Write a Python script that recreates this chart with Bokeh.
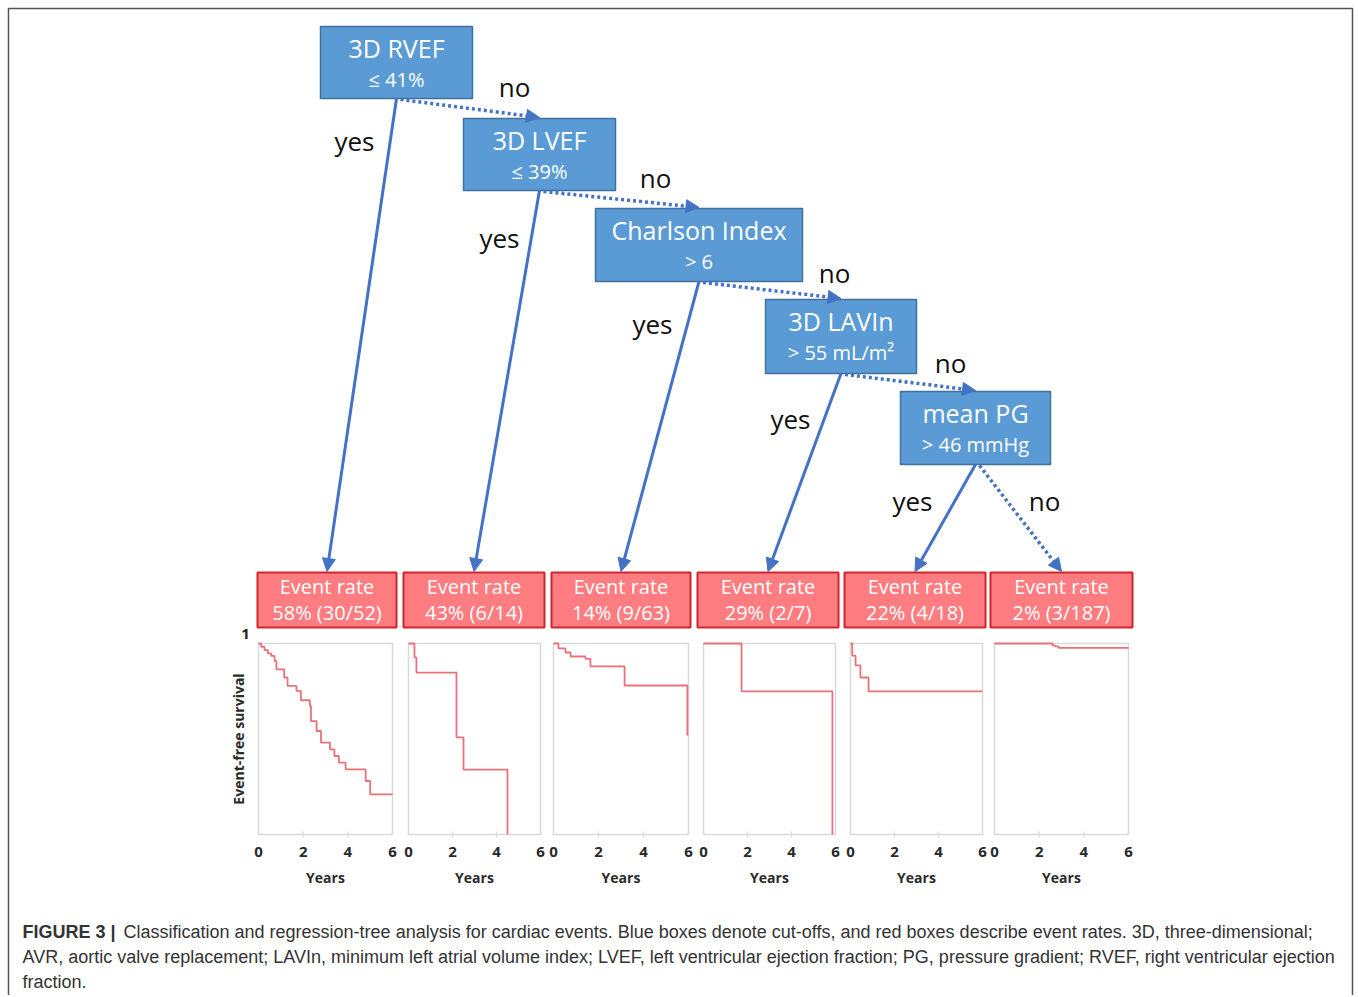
import numpy as np
from bokeh.plotting import figure
from bokeh.models import Range1d, Arrow, NormalHead
from bokeh.core.properties import value
from bokeh.embed import file_html
from bokeh.resources import INLINE

# ---------------- data ----------------
node_titles = ["3D RVEF", "3D LVEF", "Charlson Index", "3D LAVIn", "mean PG"]
node_cutoffs = ["≤ 41%", "≤ 39%", "> 6", "> 55 mL/m²", "> 46 mmHg"]
leaf_title = "Event rate"
leaf_rates = ["58% (30/52)", "43% (6/14)", "14% (9/63)", "29% (2/7)", "22% (4/18)", "2% (3/187)"]
yes_label = "yes"
no_label = "no"

# Kaplan-Meier curves (years, event-free survival)
km1_t = [0.0, 0.12, 0.27, 0.42, 0.57, 0.72, 0.80, 1.15, 1.30, 1.70, 1.90, 2.30, 2.35, 2.60, 2.80, 3.20, 3.40, 3.60, 3.90, 4.80, 5.00, 6.00]
km1_s = [1.0, 0.983, 0.965, 0.948, 0.935, 0.909, 0.865, 0.822, 0.778, 0.752, 0.703, 0.673, 0.594, 0.542, 0.481, 0.446, 0.411, 0.376, 0.341, 0.280, 0.210, 0.210]
km2_t = [0.0, 0.27, 0.36, 2.18, 2.50, 4.50]
km2_s = [1.0, 0.927, 0.848, 0.508, 0.340, 0.0]
km3_t = [0.0, 0.22, 0.53, 0.76, 1.42, 1.64, 3.16, 5.95]
km3_s = [1.0, 0.974, 0.953, 0.932, 0.920, 0.880, 0.780, 0.518]
km4_t = [0.0, 1.73, 5.86]
km4_s = [1.0, 0.749, 0.0]
km5_t = [0.0, 0.08, 0.23, 0.45, 0.82, 6.00]
km5_s = [1.0, 0.937, 0.885, 0.822, 0.749, 0.749]
km6_t = [0.0, 2.60, 2.70, 2.87, 6.00]
km6_s = [1.0, 0.990, 0.985, 0.977, 0.977]
km_times = [km1_t, km2_t, km3_t, km4_t, km5_t, km6_t]
km_surv = [km1_s, km2_s, km3_s, km4_s, km5_s, km6_s]
x_ticks = [0, 2, 4, 6]
x_tick_labels = ["0", "2", "4", "6"]
x_title = "Years"
y_title = "Event-free survival"
y_top_label = "1"

caption_bold = "FIGURE 3 |"
caption_lines = [
    "Classification and regression-tree analysis for cardiac events. Blue boxes denote cut-offs, and red boxes describe event rates. 3D, three-dimensional;",
    "AVR, aortic valve replacement; LAVIn, minimum left atrial volume index; LVEF, left ventricular ejection fraction; PG, pressure gradient; RVEF, right ventricular ejection",
    "fraction.",
]

# ---------------- layout (page pixels) ----------------
node_left = [320, 463, 595, 765, 900]
node_right = [472, 615, 802, 916, 1050]
node_top = [26, 118, 208, 299, 391]
node_bottom = [98, 190, 281, 373, 464]
leaf_left = [257, 403, 551, 697, 844, 990]
leaf_right = [396, 544, 690, 838, 985, 1132]
leaf_top, leaf_bottom = 572, 627
panel_left = [258, 408, 553, 703, 850, 994]
panel_right = [392, 540, 688, 835, 982, 1128]
panel_top, panel_bottom = 643, 834
yes_pos = [(354, 140), (499, 237), (652, 323), (790, 418), (912, 500)]
no_pos = [(514, 86), (655, 177), (834, 272), (950, 362), (1044, 500)]

BLUE_FILL, BLUE_LINE = "#5B9BD5", "#41719C"
RED_FILL, RED_LINE = "#FF7C80", "#D0262B"
ARROW = "#4472C4"
KM_COLOR = "#E8727C"
FONT = value("Open Sans")

W, H = 1356, 995
p = figure(width=W, height=H, x_range=Range1d(0, W), y_range=Range1d(H, 0),
           output_backend="svg", toolbar_location=None, min_border=0)
p.axis.visible = False
p.grid.visible = False
p.outline_line_color = None
p.background_fill_color = "white"

# page frame around the figure
p.quad(left=[8], right=[1352], top=[8], bottom=[1010], fill_color=None,
       line_color="#555555", line_width=1.5)

node_cx = [(a + b) / 2 for a, b in zip(node_left, node_right)]
leaf_cx = [(a + b) / 2 for a, b in zip(leaf_left, leaf_right)]

# arrows (yes = solid to leaves, no = dotted to next node)
for i in range(5):
    p.add_layout(Arrow(end=NormalHead(size=13, fill_color=ARROW, line_color=ARROW),
                       x_start=node_cx[i], y_start=node_bottom[i],
                       x_end=leaf_cx[i], y_end=leaf_top - 1,
                       line_color=ARROW, line_width=3))
    if i < 4:
        xe, ye = node_cx[i + 1], node_top[i + 1] - 1
    else:
        xe, ye = leaf_cx[5], leaf_top - 1
    p.add_layout(Arrow(end=NormalHead(size=13, fill_color=ARROW, line_color=ARROW),
                       x_start=node_cx[i] + 4, y_start=node_bottom[i] + 1,
                       x_end=xe, y_end=ye,
                       line_color=ARROW, line_width=3.5, line_dash="3 3"))

# decision nodes
p.quad(left=node_left, right=node_right, top=node_top, bottom=node_bottom,
       fill_color=BLUE_FILL, line_color=BLUE_LINE, line_width=1.5)
p.text(x=node_cx, y=[t + 21 for t in node_top], text=node_titles, text_font=FONT,
       text_font_size="25px", text_color="white", text_align="center", text_baseline="middle")
p.text(x=node_cx, y=[t + 53 for t in node_top], text=node_cutoffs, text_font=FONT,
       text_font_size="20px", text_color="white", text_align="center", text_baseline="middle")

# leaves
p.quad(left=leaf_left, right=leaf_right, top=[leaf_top] * 6, bottom=[leaf_bottom] * 6,
       fill_color=RED_FILL, line_color=RED_LINE, line_width=2)
p.text(x=leaf_cx, y=[586] * 6, text=[leaf_title] * 6, text_font=FONT,
       text_font_size="20px", text_color="white", text_align="center", text_baseline="middle")
p.text(x=leaf_cx, y=[612] * 6, text=leaf_rates, text_font=FONT,
       text_font_size="20px", text_color="white", text_align="center", text_baseline="middle")

# yes / no labels
p.text(x=[a for a, b in yes_pos], y=[b for a, b in yes_pos], text=[yes_label] * 5, text_font=FONT,
       text_font_size="26px", text_color="#111111", text_align="center", text_baseline="middle")
p.text(x=[a for a, b in no_pos], y=[b for a, b in no_pos], text=[no_label] * 5, text_font=FONT,
       text_font_size="26px", text_color="#111111", text_align="center", text_baseline="middle")

# Kaplan-Meier panels
for i in range(6):
    sub = p.subplot(x_source=Range1d(0, 6), y_source=Range1d(0, 1),
                    x_target=Range1d(panel_left[i], panel_right[i]),
                    y_target=Range1d(panel_bottom, panel_top))
    sub.quad(left=[0], right=[6], bottom=[0], top=[1], fill_color=None,
             line_color="#D9D9D9", line_width=1.5)
    sub.scatter(x=[2, 4], y=[0, 0], marker="dash", angle=np.pi / 2, size=6,
                line_color="#D9D9D9", line_width=1.2)
    sub.step(x=km_times[i], y=km_surv[i], mode="after", line_color=KM_COLOR, line_width=1.8)
    sub.text(x=x_ticks, y=[0] * 4, text=x_tick_labels, y_offset=17, text_font=FONT,
             text_font_size="15px", text_font_style="bold", text_color="#2a2a2a",
             text_align="center", text_baseline="middle")
    sub.text(x=[3], y=[0], text=[x_title], y_offset=43, text_font=FONT,
             text_font_size="14px", text_font_style="bold", text_color="#2a2a2a",
             text_align="center", text_baseline="middle")
    if i == 0:
        sub.text(x=[0], y=[0.5], text=[y_title], x_offset=-20, angle=np.pi / 2,
                 text_font=FONT, text_font_size="14px", text_font_style="bold",
                 text_color="#2a2a2a", text_align="center", text_baseline="middle")
        sub.text(x=[0], y=[1], text=[y_top_label], x_offset=-13, y_offset=-10,
                 text_font=FONT, text_font_size="15px", text_font_style="bold",
                 text_color="#222222", text_align="center", text_baseline="middle")

# caption
CAP = value("Liberation Sans")
p.text(x=[22], y=[931], text=[caption_bold], text_font=CAP, text_font_style="bold",
       text_font_size="18px", text_color="#333333", text_align="left", text_baseline="middle")
p.text(x=[123, 22, 22], y=[931, 956, 981], text=caption_lines, text_font=CAP,
       text_font_size="18px", text_color="#333333", text_align="left", text_baseline="middle")

open("out.html", "w").write(file_html(p, INLINE))
